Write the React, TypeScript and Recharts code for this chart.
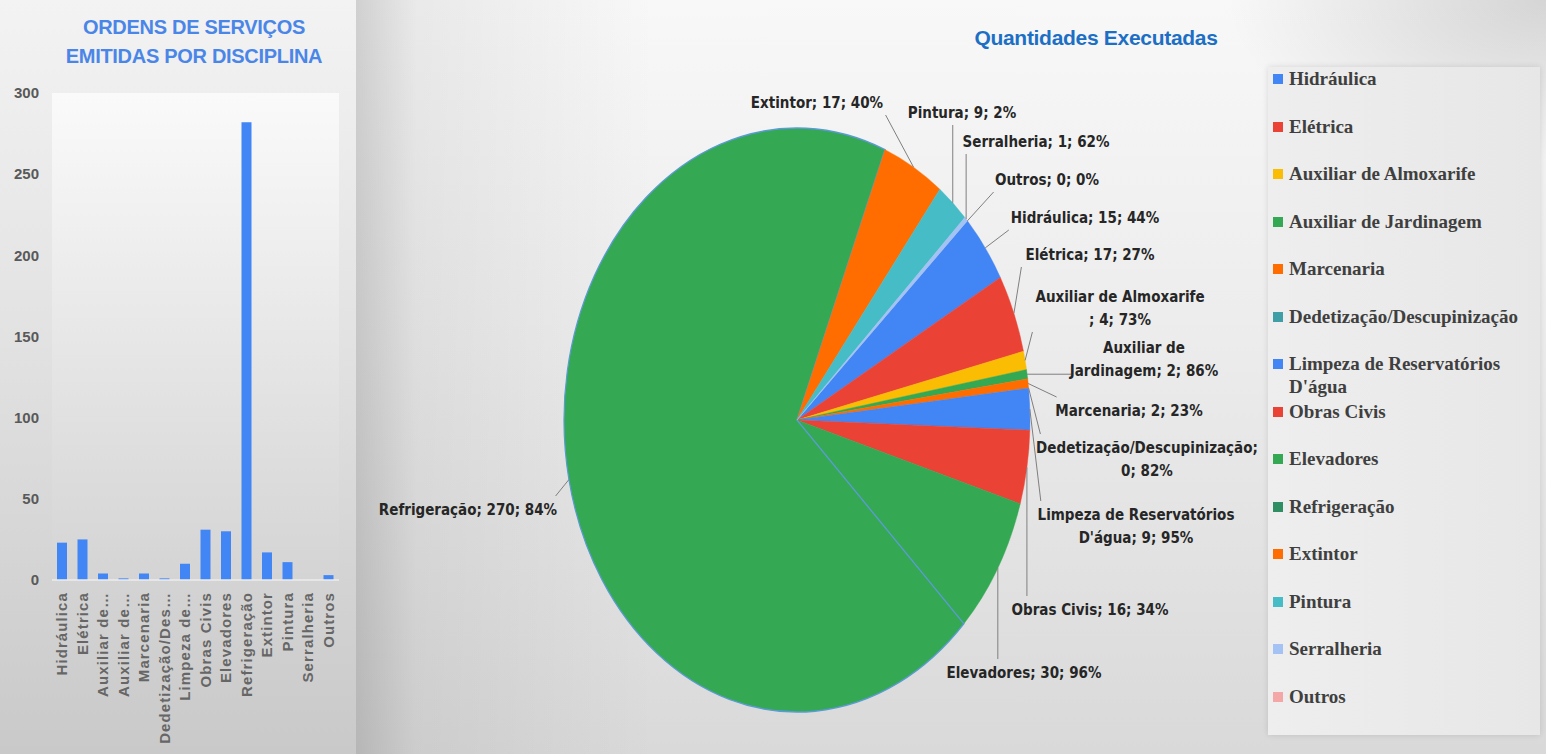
import { BarChart, Bar, XAxis, YAxis, CartesianGrid, PieChart, Pie, Cell } from 'recharts'

// --- bar chart: ordens de serviço emitidas
const BAR_CATEGORIES = [
  'Hidráulica',
  'Elétrica',
  'Auxiliar de Almoxarife',
  'Auxiliar de Jardinagem',
  'Marcenaria',
  'Dedetização/Descupinização',
  "Limpeza de Reservatórios D'água",
  'Obras Civis',
  'Elevadores',
  'Refrigeração',
  'Extintor',
  'Pintura',
  'Serralheria',
  'Outros',
]
const BAR_TICK_LABELS = [
  'Hidráulica',
  'Elétrica',
  'Auxiliar de…',
  'Auxiliar de…',
  'Marcenaria',
  'Dedetização/Des…',
  'Limpeza de…',
  'Obras Civis',
  'Elevadores',
  'Refrigeração',
  'Extintor',
  'Pintura',
  'Serralheria',
  'Outros',
]
const BAR_VALUES = [23, 25, 4, 1, 4, 1, 10, 31, 30, 282, 17, 11, 0, 3]
const Y_TICKS = [0, 50, 100, 150, 200, 250, 300]

// --- pie chart: quantidades executadas
const PIE_NAMES = BAR_CATEGORIES
const PIE_VALUES = [15, 17, 4, 2, 2, 0, 9, 16, 30, 270, 17, 9, 1, 0]
const PIE_PCT = ['44%', '27%', '73%', '86%', '23%', '82%', '95%', '34%', '96%', '84%', '40%', '2%', '62%', '0%']
const PIE_COLORS = [
  '#4285f4', '#ea4335', '#fbbc04', '#34a853', '#ff6d01', '#46bdc6', '#4285f4',
  '#ea4335', '#34a853', '#34a853', '#ff6d01', '#46bdc6', '#a4c2f4', '#f4a7a7',
]
const LEGEND_COLORS = [
  '#4285f4', '#ea4335', '#fbbc04', '#34a853', '#ff6d01', '#3f9ea6', '#4285f4',
  '#ea4335', '#34a853', '#2f8f62', '#ff6d01', '#46bdc6', '#a4c2f4', '#f4a7a7',
]

const barData = BAR_CATEGORIES.map((name, i) => ({ name, value: BAR_VALUES[i] }))
const pieData = PIE_NAMES.map((name, i) => ({ name, value: PIE_VALUES[i] }))

// label placement (offset of first line from pie centre) and where the text wraps
const LABEL_AT: [number, number][] = [
  [288, -202], [293, -165], [323, -123], [347, -72], [332, -9], [350, 28], [339, 95],
  [293, 190], [227, 253], [-329, 90], [20, -317], [165, -307], [239, -278], [250, -240],
]
const LABEL_BREAK = [0, 0, 22, 11, 0, 27, 24, 0, 0, 0, 0, 0, 0, 0]

const PIE_LEFT = 356
const CX = 441
const CY = 420
const RY = 292
const RX = 233
const SX = RX / RY

const labelFont = "'Liberation Sans Narrow', 'DejaVu Sans Condensed', 'Arial Narrow', sans-serif"

function BarTick(props: any) {
  const { x, y, index } = props
  return (
    <text
      x={x}
      y={y}
      transform={`rotate(-90 ${x} ${y})`}
      textAnchor="end"
      dx={-4}
      dy={5}
      fontSize={15}
      fontWeight={700}
      letterSpacing={1.1}
      fill="#666666"
      fontFamily="'Liberation Sans', Arial, sans-serif"
    >
      {BAR_TICK_LABELS[index]}
    </text>
  )
}

function PieLabel(props: any) {
  const { cx, cy, midAngle, index } = props
  const rad = (-midAngle * Math.PI) / 180
  const ax = cx + RX * Math.cos(rad)
  const ay = cy + RY * Math.sin(rad)
  const full = `${PIE_NAMES[index]}; ${PIE_VALUES[index]}; ${PIE_PCT[index]}`
  const br = LABEL_BREAK[index]
  const lines = br ? [full.slice(0, br).trim(), full.slice(br).trim()] : [full]
  const lx = cx + LABEL_AT[index][0]
  const ly = cy + LABEL_AT[index][1]
  const w = Math.max(...lines.map((l) => l.length)) * 7.6
  const left = lx - w / 2 - 4
  const right = lx + w / 2 + 4
  const top = ly - 14
  const bottom = ly + (lines.length - 1) * 23 + 12
  const px = Math.min(Math.max(ax, left), right)
  const py = Math.min(Math.max(ay, top), bottom)
  return (
    <g>
      <line x1={ax} y1={ay} x2={px} y2={py} stroke="#7f7f7f" strokeWidth={1} />
      {lines.map((l, k) => (
        <text
          key={k}
          x={lx}
          y={ly + k * 23 + 5}
          textAnchor="middle"
          fontSize={15}
          fontWeight={700}
          fontFamily={labelFont}
          fill="#262626"
        >
          {l}
        </text>
      ))}
    </g>
  )
}

function PieLegend() {
  return (
    <div style={{ position: 'absolute', left: 1268, top: 67, width: 272, paddingLeft: 5 }}>
      {PIE_NAMES.map((name, i) => (
        <div key={name} style={{ height: 47.5, display: 'flex', alignItems: 'flex-start' }}>
          <span
            style={{
              width: 10,
              height: 10,
              marginTop: 7,
              marginRight: 6,
              flex: 'none',
              background: LEGEND_COLORS[i],
            }}
          />
          <span
            style={{
              fontFamily: "'Liberation Serif', 'DejaVu Serif', serif",
              fontWeight: 700,
              fontSize: 19,
              lineHeight: '23px',
              color: '#3f3f3f',
              width: 248,
            }}
          >
            {name}
          </span>
        </div>
      ))}
    </div>
  )
}

export default function App() {
  return (
    <div
      style={{
        position: 'absolute',
        left: 0,
        top: 0,
        width: 1546,
        height: 754,
        overflow: 'hidden',
        background: '#dcdcdc',
        fontFamily: "'Liberation Sans', Arial, sans-serif",
      }}
    >
      <style>{`
        .qe-pie .recharts-pie-sector {
          transform-box: view-box;
          transform-origin: 0 0;
          transform: matrix(${SX}, 0, 0, 1, ${CX * (1 - SX)}, 0);
        }
      `}</style>

      {/* left panel */}
      <div
        style={{
          position: 'absolute',
          left: 0,
          top: 0,
          width: PIE_LEFT,
          height: 754,
          background: 'linear-gradient(180deg, #f3f3f3 0%, #e2e2e2 45%, #c9c9c9 100%)',
        }}
      />
      {/* right panel */}
      <div
        style={{
          position: 'absolute',
          left: PIE_LEFT,
          top: 0,
          width: 1546 - PIE_LEFT,
          height: 754,
          background:
            'radial-gradient(ellipse 320px 160px at 100% 0%, rgba(0,0,0,0.14), rgba(0,0,0,0)),' +
            'linear-gradient(90deg, rgba(0,0,0,0.16) 0px, rgba(0,0,0,0.06) 60px, rgba(0,0,0,0) 300px),' +
            'linear-gradient(180deg, #f8f8f8 0%, #ececec 45%, #d9d9d9 100%)',
        }}
      />
      {/* legend box */}
      <div
        style={{
          position: 'absolute',
          left: 1268,
          top: 67,
          width: 272,
          height: 668,
          background: 'linear-gradient(90deg, #eeeeee, #e7e7e7)',
          boxShadow: '0 0 6px rgba(0,0,0,0.12)',
        }}
      />

      <div
        style={{
          position: 'absolute',
          left: 0,
          top: 13,
          width: 388,
          textAlign: 'center',
          color: '#4a86e8',
          fontWeight: 700,
          fontSize: 20,
          lineHeight: '29px',
          letterSpacing: -0.3,
        }}
      >
        ORDENS DE SERVIÇOS
        <br />
        EMITIDAS POR DISCIPLINA
      </div>
      <div
        style={{
          position: 'absolute',
          left: 900,
          top: 24,
          width: 392,
          textAlign: 'center',
          color: '#1c6fc4',
          fontWeight: 700,
          fontSize: 21,
          lineHeight: '28px',
          letterSpacing: -0.3,
        }}
      >
        Quantidades Executadas
      </div>

      <div style={{ position: 'absolute', left: 0, top: 0 }}>
        <BarChart width={PIE_LEFT} height={754} data={barData} margin={{ top: 93, right: 17, bottom: 0, left: 0 }}>
          <defs>
            <linearGradient id="plotBg" x1="0" y1="0" x2="0" y2="1">
              <stop offset="0%" stopColor="#fafafa" />
              <stop offset="100%" stopColor="#d4d4d4" />
            </linearGradient>
          </defs>
          <CartesianGrid horizontal={false} vertical={false} fill="url(#plotBg)" />
          <XAxis
            dataKey="name"
            interval={0}
            height={174}
            tick={<BarTick />}
            tickLine={false}
            axisLine={{ stroke: '#ececec', strokeWidth: 1.5 }}
          />
          <YAxis
            width={52}
            domain={[0, 300]}
            ticks={Y_TICKS}
            axisLine={false}
            tickLine={false}
            tickMargin={7}
            tick={{ fontSize: 15, fontWeight: 700, fill: '#595959' }}
          />
          <Bar dataKey="value" fill="#4285f4" barSize={10} isAnimationActive={false} />
        </BarChart>
      </div>

      <div className="qe-pie" style={{ position: 'absolute', left: PIE_LEFT, top: 0 }}>
        <PieChart width={1546 - PIE_LEFT} height={754} margin={{ top: 0, right: 0, bottom: 0, left: 0 }}>
          <Pie
            data={pieData}
            dataKey="value"
            nameKey="name"
            cx={CX}
            cy={CY}
            outerRadius={RY}
            startAngle={43}
            endAngle={43 - 360}
            label={PieLabel}
            labelLine={false}
            isAnimationActive={false}
          >
            {pieData.map((_, i) => (
              <Cell
                key={i}
                fill={PIE_COLORS[i]}
                stroke={i === 9 ? '#5b9bd5' : PIE_COLORS[i]}
                strokeWidth={i === 9 ? 1.5 : 0.5}
              />
            ))}
          </Pie>
        </PieChart>
      </div>

      <PieLegend />
    </div>
  )
}
